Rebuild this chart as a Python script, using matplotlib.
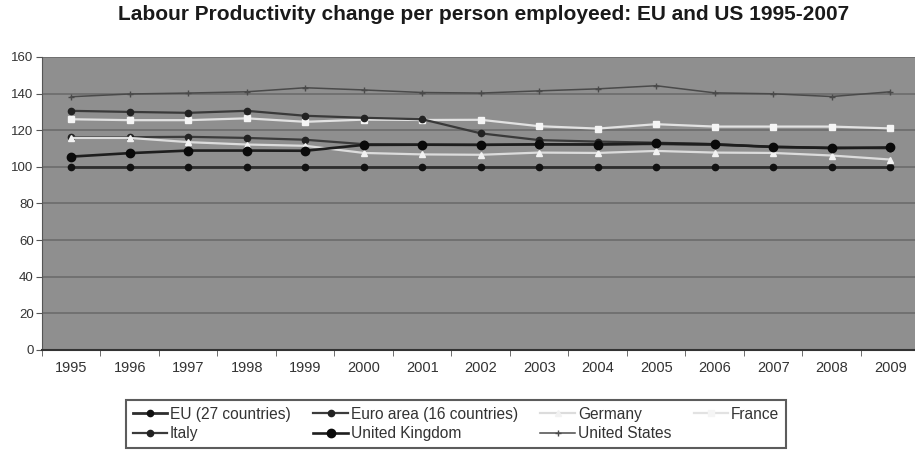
import matplotlib
matplotlib.use('Agg')
import matplotlib.pyplot as plt
import numpy as np

plt.rcParams['font.family'] = ['Liberation Sans', 'DejaVu Sans']

years = ['1995', '1996', '1997', '1998', '1999', '2000', '2001', '2002',
         '2003', '2004', '2005', '2006', '2007', '2008', '2009']

eu27 = [100, 100, 100, 100, 100, 100, 100, 100, 100, 100, 100, 100, 100, 100, 100]
euro_area = [116.2, 116.2, 116.4, 115.8, 114.8, 112.4, 112.2, 112.1, 112.2, 112.3,
             112.4, 112.0, 111.0, 110.5, 110.2]
germany = [115.8, 115.8, 113.5, 112.2, 111.5, 107.6, 106.8, 106.6, 107.8, 107.6,
           108.7, 107.8, 107.6, 106.2, 104.0]
france = [126.0, 125.5, 125.5, 126.5, 124.6, 125.8, 125.6, 125.7, 122.2, 120.9,
          123.3, 122.0, 122.0, 122.0, 121.0]
italy = [130.6, 130.0, 129.5, 130.6, 127.9, 126.8, 126.0, 118.3, 114.6, 113.8,
         113.2, 112.4, 110.8, 110.2, 110.3]
uk = [105.6, 107.5, 108.9, 108.9, 108.8, 112.0, 112.1, 112.0, 112.3, 112.2,
      112.8, 112.3, 110.9, 110.3, 110.6]
us = [138.3, 139.8, 140.3, 141.0, 143.2, 142.0, 140.6, 140.3, 141.5, 142.6,
      144.3, 140.4, 139.9, 138.4, 141.0]

x = np.arange(len(years))

fig = plt.figure(figsize=(9.15, 4.53), dpi=100)
ax = fig.add_axes([0.0459, 0.2274, 0.959, 0.6468])
ax.set_facecolor('#8f8f8f')

ax.plot(x, eu27, color='#2e2e2e', lw=2.0, marker='o', ms=4.5, mfc='#111111', mec='#111111',
        label='EU (27 countries)', zorder=3)
ax.plot(x, euro_area, color='#3c3c3c', lw=1.6, marker='o', ms=4.5, mfc='#222222', mec='#222222',
        label='Euro area (16 countries)', zorder=4)
ax.plot(x, germany, color='#dcdcdc', lw=1.6, marker='^', ms=4.5, mfc='#f2f2f2', mec='#f2f2f2',
        label='Germany', zorder=5)
ax.plot(x, france, color='#e2e2e2', lw=1.6, marker='s', ms=4, mfc='#f5f5f5', mec='#f5f5f5',
        label='France', zorder=3)
ax.plot(x, italy, color='#3a3a3a', lw=1.6, marker='o', ms=4.5, mfc='#222222', mec='#222222',
        label='Italy', zorder=3)
ax.plot(x, uk, color='#1e1e1e', lw=1.9, marker='o', ms=6, mfc='#0a0a0a', mec='#0a0a0a',
        label='United Kingdom', zorder=6)
ax.plot(x, us, color='#4a4a4a', lw=1.1, marker='+', ms=4, mec='#4a4a4a',
        label='United States', zorder=3)

ax.set_ylim(0, 160)
ax.set_xlim(-0.5, len(years) - 0.5)
ax.set_yticks(np.arange(0, 161, 20))
ax.yaxis.grid(True, color='#6c6c6c', lw=1.2)
ax.set_axisbelow(True)

ax.set_xticks(x)
ax.set_xticklabels(years)
ax.set_xticks(np.arange(-0.5, len(years), 1), minor=True)
ax.tick_params(axis='x', which='major', length=0, pad=8, labelsize=10.5, labelcolor='#333333')
ax.tick_params(axis='x', which='minor', length=4, color='#555555', direction='out')
ax.tick_params(axis='y', length=4, pad=2, color='#555555', labelsize=9.5, labelcolor='#333333')

for side in ['top', 'right']:
    ax.spines[side].set_visible(False)
ax.spines['left'].set_color('#555555')
ax.spines['bottom'].set_color('#333333')
ax.spines['bottom'].set_linewidth(1.5)

fig.text(0.529, 0.968, 'Labour Productivity change per person employeed: EU and US 1995-2007',
         ha='center', va='center', fontsize=15, fontweight='bold', color='#1a1a1a')

# legend filled column by column, so reorder to read row by row
h, l = ax.get_legend_handles_labels()
order = [0, 4, 1, 5, 2, 6, 3]
leg = fig.legend([h[i] for i in order], [l[i] for i in order],
                 loc='upper left', bbox_to_anchor=(118 / 915, 1 - 392 / 453),
                 ncol=4, fontsize=11.2, frameon=True, fancybox=False, edgecolor='#333333',
                 handlelength=2.2, handletextpad=0.2, columnspacing=1.45,
                 borderpad=0.45, labelspacing=0.3)
leg.get_frame().set_linewidth(1.5)
for t in leg.get_texts():
    t.set_color('#333333')

fig.savefig('out.png', dpi=100)
